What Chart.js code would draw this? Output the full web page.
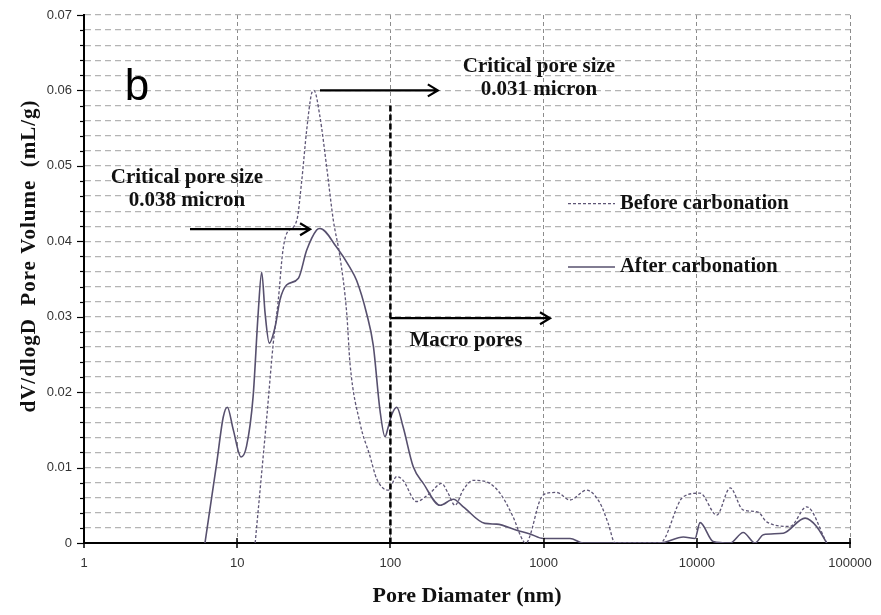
<!DOCTYPE html>
<html>
<head>
<meta charset="utf-8">
<script src="https://cdn.jsdelivr.net/npm/chart.js@4.4.1/dist/chart.umd.min.js"></script>
<style>
  html, body { margin: 0; padding: 0; background: #fff; }
  #wrap { width: 881px; height: 615px; }
</style>
</head>
<body>
<div id="wrap"><canvas id="grafico-poros" width="881" height="615"></canvas></div>
<script>
// Pore diameter (nm) vs dV/dlogD (mL/g)
const beforeDiam = [13.1, 14.1, 15.6, 17.2, 18.5, 19.8, 21.0, 24.5, 26.4, 28.4, 30.6, 31.7, 34.7, 38.4, 42.4, 46.9, 51.9, 54.5, 63.3, 73.6, 81.4, 96.5, 110, 121, 148, 181, 216, 238, 264, 298, 346, 425, 519, 631, 734, 770, 810, 948, 1047, 1218, 1487, 1910, 2333, 2650, 2924, 5750, 8130, 10500, 13500, 16500, 20000, 25100, 28600, 40600, 52100, 70500];
const beforeVol = [0, 0.007, 0.0167, 0.0265, 0.032, 0.0385, 0.041, 0.0428, 0.0481, 0.0547, 0.0596, 0.06, 0.0565, 0.0498, 0.0428, 0.0379, 0.0304, 0.0238, 0.0159, 0.0115, 0.0085, 0.007, 0.0088, 0.0083, 0.0055, 0.0066, 0.0079, 0.0066, 0.005, 0.007, 0.0083, 0.0081, 0.0066, 0.0035, 0.0003, 0, 0.0008, 0.0057, 0.0066, 0.0067, 0.0057, 0.007, 0.0053, 0.0025, 0, 0, 0.0061, 0.0066, 0.0037, 0.0073, 0.0044, 0.0041, 0.0028, 0.0022, 0.0048, 0];

const afterDiam = [6.16, 7.35, 8.11, 8.62, 9.43, 10.6, 11.5, 12.7, 13.7, 14.45, 15.2, 16.2, 17.7, 19.0, 21.0, 25.1, 28.4, 33.0, 34.7, 44.6, 54.5, 60.2, 70.0, 77.3, 85.5, 92.2, 96.9, 102, 110, 121, 141, 164, 211, 258, 299, 414, 494, 667, 815, 996, 1487, 1816, 5750, 8170, 9730, 10500, 12800, 16500, 20100, 24000, 27200, 36700, 50900, 60500, 70500];
const afterVol = [0, 0.0106, 0.0167, 0.018, 0.015, 0.0114, 0.0128, 0.0194, 0.0304, 0.0359, 0.0305, 0.0265, 0.0287, 0.0322, 0.0342, 0.0351, 0.0388, 0.0415, 0.0417, 0.0392, 0.0365, 0.0348, 0.0304, 0.0262, 0.0176, 0.0141, 0.0154, 0.017, 0.018, 0.0154, 0.0101, 0.0079, 0.005, 0.0058, 0.0048, 0.0026, 0.0025, 0.0017, 0.0012, 0.0006, 0.0006, 0, 0, 0.0008, 0.0006, 0.0027, 0.0002, 0, 0.0014, 0, 0.0011, 0.0013, 0.0033, 0.0022, 0];

const seriesNames = ['Before carbonation', 'After carbonation'];
const xTicks = [1, 10, 100, 1000, 10000, 100000];

const serif = '"Liberation Serif", "Times New Roman", serif';
const sans = '"Liberation Sans", Arial, sans-serif';

function toPoints(xs, ys) {
    return xs.map((v, i) => ({ x: v, y: ys[i] }));
}

// annotations
function arrow(ctx, x1, x2, y) {
    ctx.save();
    ctx.strokeStyle = '#000';
    ctx.lineWidth = 2.2;
    ctx.beginPath();
    ctx.moveTo(x1, y);
    ctx.lineTo(x2, y);
    ctx.moveTo(x2 - 10, y - 6);
    ctx.lineTo(x2, y);
    ctx.lineTo(x2 - 10, y + 6);
    ctx.stroke();
    ctx.restore();
}

const overlay = {
    id: 'overlay',
    afterDraw(chart) {
        const { ctx, scales: { x, y } } = chart;
        const area = chart.chartArea;

        // tick marks
        ctx.save();
        ctx.strokeStyle = '#000';
        ctx.lineWidth = 1.2;
        y.ticks.forEach(t => {
            const py = Math.round(y.getPixelForValue(t.value)) + 0.5;
            const major = Math.abs(t.value * 100 - Math.round(t.value * 100)) < 1e-6;
            ctx.beginPath();
            ctx.moveTo(area.left - (major ? 7 : 4), py);
            ctx.lineTo(area.left, py);
            ctx.stroke();
        });
        ctx.lineWidth = 1.5;
        xTicks.forEach(v => {
            const px = Math.round(x.getPixelForValue(v));
            ctx.beginPath();
            ctx.moveTo(px, area.bottom - 5);
            ctx.lineTo(px, area.bottom + 5);
            ctx.stroke();
        });
        ctx.restore();

        // vertical boundary at 100 nm
        ctx.save();
        ctx.strokeStyle = '#000';
        ctx.lineWidth = 2.5;
        ctx.setLineDash([6, 3]);
        ctx.beginPath();
        ctx.moveTo(x.getPixelForValue(100), y.getPixelForValue(0.058));
        ctx.lineTo(x.getPixelForValue(100), y.getPixelForValue(0));
        ctx.stroke();
        ctx.restore();

        arrow(ctx, x.getPixelForValue(34.7), x.getPixelForValue(204), y.getPixelForValue(0.060));
        arrow(ctx, x.getPixelForValue(4.92), x.getPixelForValue(29.9), y.getPixelForValue(0.0416));
        arrow(ctx, x.getPixelForValue(100), x.getPixelForValue(1101), y.getPixelForValue(0.0298));

        ctx.save();
        ctx.fillStyle = '#111';
        ctx.textAlign = 'center';
        ctx.textBaseline = 'middle';
        ctx.font = 'bold 21px ' + serif;
        ctx.fillText('Critical pore size', x.getPixelForValue(933), y.getPixelForValue(0.0632));
        ctx.fillText('0.031 micron', x.getPixelForValue(933), y.getPixelForValue(0.0601));
        ctx.fillText('Critical pore size', x.getPixelForValue(4.70), y.getPixelForValue(0.0485));
        ctx.fillText('0.038 micron', x.getPixelForValue(4.70), y.getPixelForValue(0.0454));
        ctx.fillText('Macro pores', x.getPixelForValue(311), y.getPixelForValue(0.0269));

        ctx.font = '44px ' + sans;
        ctx.fillStyle = '#000';
        ctx.fillText('b', x.getPixelForValue(2.22), y.getPixelForValue(0.0603));

        // legend
        const ds = chart.data.datasets;
        const legendY = [0.045, 0.0366];
        ctx.textAlign = 'left';
        ctx.font = 'bold 20.5px ' + serif;
        ds.forEach((d, i) => {
            const py = y.getPixelForValue(legendY[i]);
            ctx.save();
            ctx.strokeStyle = d.borderColor;
            ctx.lineWidth = d.borderWidth;
            ctx.setLineDash(d.borderDash || []);
            ctx.beginPath();
            ctx.moveTo(x.getPixelForValue(1443), py);
            ctx.lineTo(x.getPixelForValue(2924), py);
            ctx.stroke();
            ctx.restore();
            ctx.fillStyle = '#111';
            ctx.fillText(d.label, x.getPixelForValue(3155), py);
        });

        // y axis title
        ctx.translate(30, 256);
        ctx.rotate(-Math.PI / 2);
        ctx.textAlign = 'center';
        ctx.font = 'bold 21px ' + serif;
        ctx.letterSpacing = '1px';
        ctx.fillText('dV/dlogD  Pore Volume  (mL/g)', 0, 0);
        ctx.restore();
    }
};

new Chart(document.getElementById('grafico-poros'), {
    type: 'line',
    data: {
        datasets: [{
            label: seriesNames[0],
            data: toPoints(beforeDiam, beforeVol),
            borderColor: '#5e5676',
            borderWidth: 1.3,
            borderDash: [3, 2],
            pointRadius: 0,
            cubicInterpolationMode: 'monotone'
        }, {
            label: seriesNames[1],
            data: toPoints(afterDiam, afterVol),
            borderColor: '#57506e',
            borderWidth: 1.6,
            pointRadius: 0,
            cubicInterpolationMode: 'monotone'
        }]
    },
    options: {
        responsive: false,
        animation: false,
        layout: { padding: { top: 15, right: 31, left: 0, bottom: 0 } },
        plugins: { legend: { display: false }, tooltip: { enabled: false } },
        scales: {
            x: {
                type: 'logarithmic',
                min: 1,
                max: 100000,
                afterBuildTicks: s => { s.ticks = xTicks.map(v => ({ value: v })); },
                afterFit: s => { s.height = 72; s.paddingLeft = 0; s.paddingRight = 0; },
                grid: { color: '#8c8c8c', lineWidth: 1, drawTicks: false },
                border: { color: '#000', width: 2, dash: [4, 3] },
                ticks: {
                    padding: 13,
                    color: '#333',
                    font: { family: sans, size: 13 },
                    maxRotation: 0,
                    callback: v => String(v)
                },
                title: {
                    display: true,
                    text: 'Pore Diamater (nm)',
                    color: '#111',
                    font: { family: serif, size: 22, weight: 'bold' },
                    padding: { bottom: 5 }
                }
            },
            y: {
                min: 0,
                max: 0.07,
                afterFit: s => { s.width = 84; s.paddingTop = 0; s.paddingBottom = 0; },
                grid: { color: '#b4b4b4', lineWidth: 1.2, drawTicks: false },
                border: { color: '#000', width: 2, dash: [6, 4] },
                ticks: {
                    stepSize: 0.002,
                    autoSkip: false,
                    padding: 12,
                    color: '#333',
                    font: { family: sans, size: 13 },
                    callback: v => {
                        const k = v * 100;
                        if (Math.abs(k - Math.round(k)) > 1e-6) return '';
                        return Math.round(k) === 0 ? '0' : (Math.round(k) / 100).toFixed(2);
                    }
                }
            }
        }
    },
    plugins: [overlay]
});
</script>
</body>
</html>
